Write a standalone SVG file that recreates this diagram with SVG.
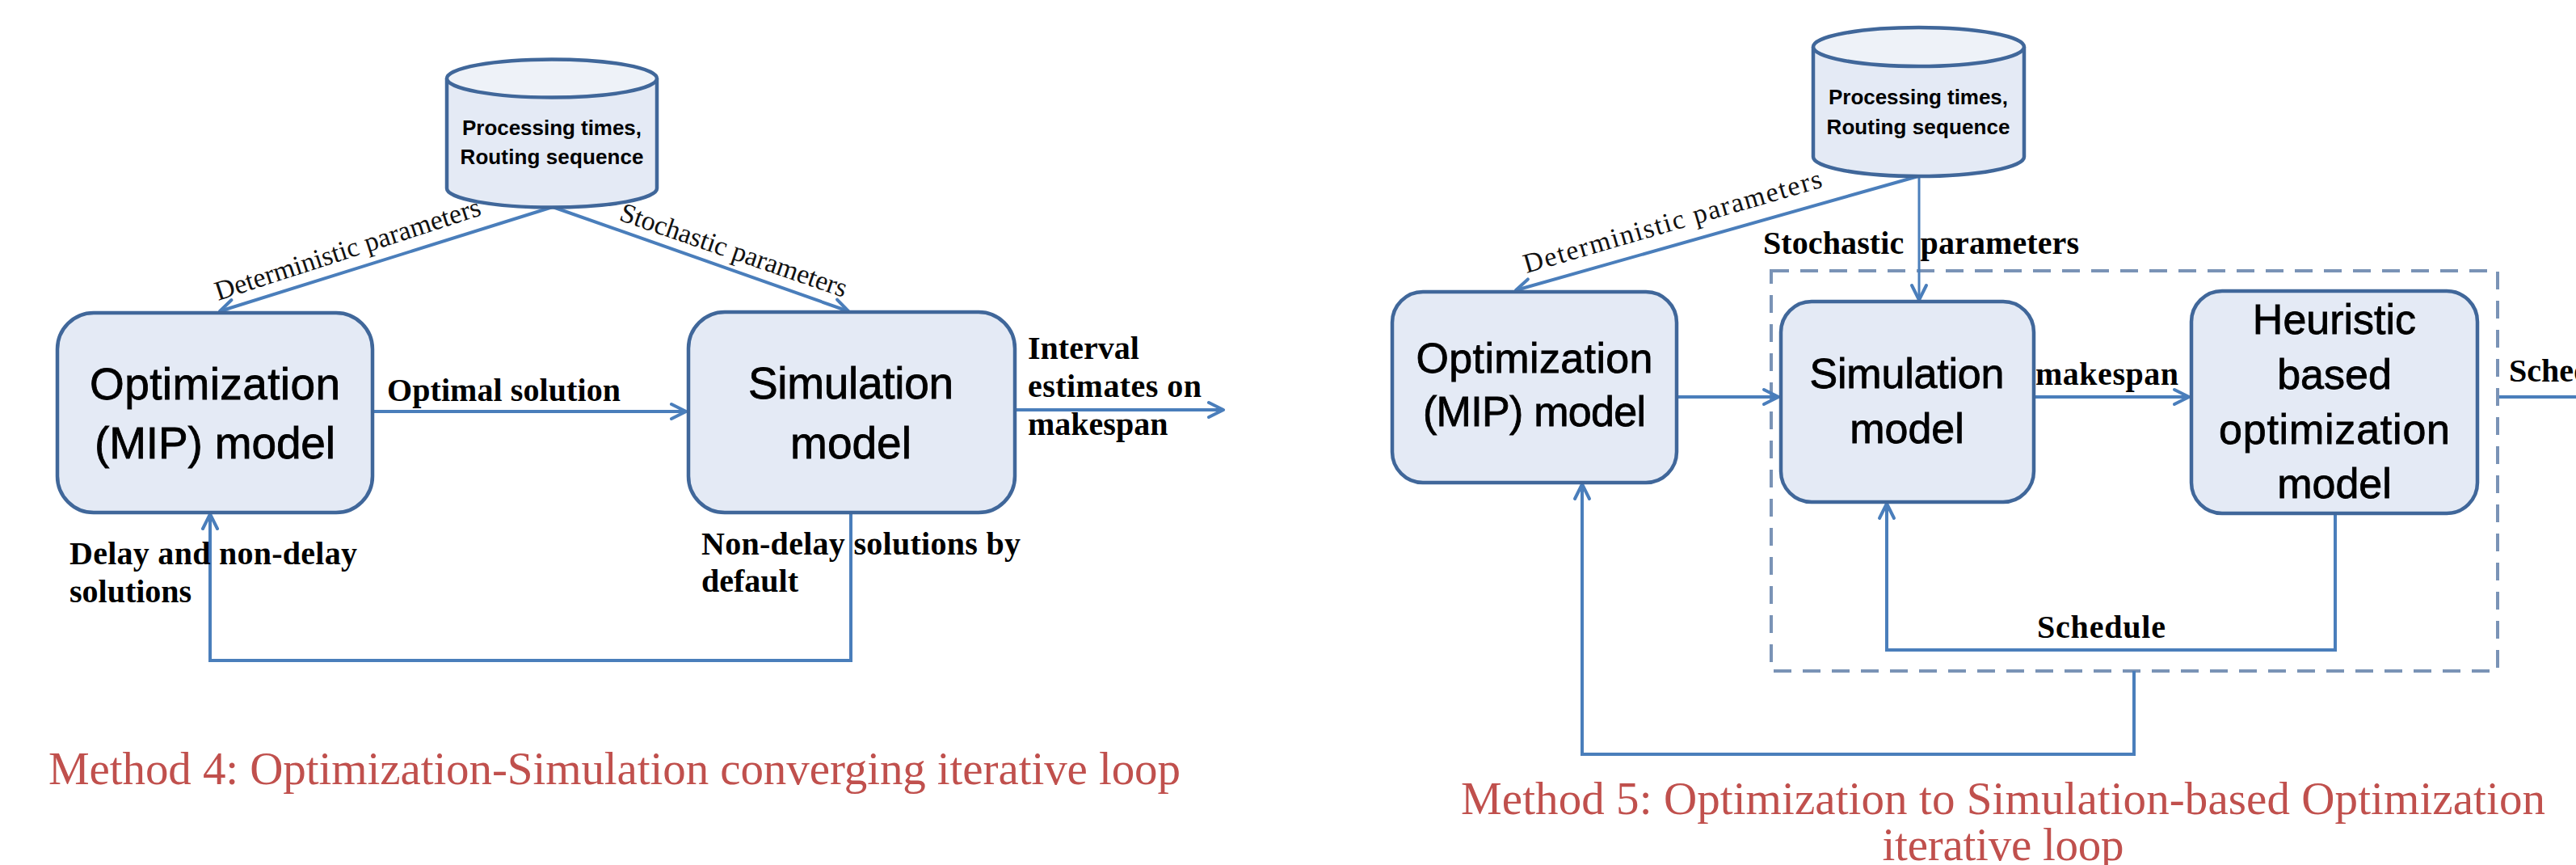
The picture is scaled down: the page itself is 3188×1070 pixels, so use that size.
<svg xmlns="http://www.w3.org/2000/svg" width="3188" height="1070" viewBox="0 0 3188 1070">
  <style>
    .box { fill: #E4EAF5; stroke: #40679A; stroke-width: 4.5; }
    .cyl-body { fill: #E4EAF5; stroke: #40679A; stroke-width: 4.5; }
    .cyl-top { fill: #EEF2F8; stroke: #40679A; stroke-width: 4.5; }
    .conn { fill: none; stroke: #4A7EBB; stroke-width: 4; }
    .thin { stroke-width: 3; }
    .group-box { fill: none; stroke: #7A93B6; stroke-width: 4; stroke-dasharray: 22 14; }
    .bt { font-family: "Liberation Sans", Arial, sans-serif; font-size: 55px; text-anchor: middle; fill: #000; stroke: #000; stroke-width: 0.8; }
    .bt2 { font-family: "Liberation Sans", Arial, sans-serif; font-size: 52px; text-anchor: middle; fill: #000; stroke: #000; stroke-width: 0.8; }
    .ct { font-family: "Liberation Sans", Arial, sans-serif; font-weight: bold; font-size: 26px; text-anchor: middle; fill: #000; }
    .lbl { font-family: "Liberation Serif", "Times New Roman", serif; font-weight: bold; font-size: 40px; fill: #000; white-space: pre; }
    .rot { font-family: "Liberation Serif", "Times New Roman", serif; font-size: 34px; fill: #111; }
    .cap { font-family: "Liberation Serif", "Times New Roman", serif; font-size: 57px; fill: #C0504D; }
  </style>
  <defs>
    <marker id="arrow" markerUnits="userSpaceOnUse" markerWidth="40" markerHeight="40" refX="0" refY="0" orient="auto" overflow="visible">
      <path d="M-18,-9 L0,0 L-18,9" fill="none" stroke="#4A7EBB" stroke-width="4" stroke-linecap="round" stroke-linejoin="round"/>
    </marker>
  </defs>

  <rect width="3188" height="1070" fill="#FFFFFF"/>

  <!-- ===== Method 4 ===== -->
  <g id="m4-connectors">
    <path class="conn" d="M684,256 L272,385" marker-end="url(#arrow)"/>
    <path class="conn" d="M684,256 L1050,385" marker-end="url(#arrow)"/>
    <path class="conn" d="M461,509 L849,509" marker-end="url(#arrow)"/>
    <path class="conn" d="M1256,507 L1514,507" marker-end="url(#arrow)"/>
    <path class="conn" d="M1053,634 L1053,817 L260,817 L260,636" marker-end="url(#arrow)"/>
  </g>

  <g id="m4-data">
    <path class="cyl-body" d="M553,97 L553,233 A130,23.5 0 0 0 813,233 L813,97"/>
    <ellipse class="cyl-top" cx="683" cy="97" rx="130" ry="23.5"/>
    <text class="ct" x="683" y="167" textLength="222">Processing times,</text>
    <text class="ct" x="683" y="203" textLength="227">Routing sequence</text>
  </g>

  <g id="m4-optimization">
    <rect class="box" x="71" y="387" width="390" height="247" rx="45"/>
    <text class="bt" x="266" y="494" textLength="310">Optimization</text>
    <text class="bt" x="266" y="567" textLength="298">(MIP) model</text>
  </g>

  <g id="m4-simulation">
    <rect class="box" x="852" y="386" width="404" height="248" rx="45"/>
    <text class="bt" x="1053" y="493" textLength="254">Simulation</text>
    <text class="bt" x="1053" y="567">model</text>
  </g>

  <g id="m4-labels">
    <text class="rot" x="270" y="372" transform="rotate(-18 270 372)" textLength="344">Deterministic parameters</text>
    <text class="rot" x="765" y="272" transform="rotate(19 765 272)" textLength="295">Stochastic parameters</text>
    <text class="lbl" x="479" y="496" textLength="289">Optimal solution</text>
    <text class="lbl" x="1272" y="444">Interval</text>
    <text class="lbl" x="1272" y="491" textLength="215">estimates on</text>
    <text class="lbl" x="1272" y="538">makespan</text>
    <text class="lbl" x="86" y="698" textLength="356">Delay and non-delay</text>
    <text class="lbl" x="86" y="745">solutions</text>
    <text class="lbl" x="868" y="686" textLength="395">Non-delay solutions by</text>
    <text class="lbl" x="868" y="732">default</text>
    <text class="cap" x="60" y="970" textLength="1401">Method 4: Optimization-Simulation converging iterative loop</text>
  </g>

  <!-- ===== Method 5 ===== -->
  <rect id="m5-sim-opt-group" class="group-box" x="2192" y="335" width="899" height="495"/>

  <g id="m5-connectors">
    <path class="conn" d="M2374,218 L1876,359" marker-end="url(#arrow)"/>
    <path class="conn thin" d="M2375,218 L2375,371" marker-end="url(#arrow)"/>
    <path class="conn" d="M2075,491 L2201,491" marker-end="url(#arrow)"/>
    <path class="conn" d="M2517,491 L2709,491" marker-end="url(#arrow)"/>
    <path class="conn" d="M2890,635 L2890,804 L2335,804 L2335,623" marker-end="url(#arrow)"/>
    <path class="conn" d="M2641,830 L2641,933 L1958,933 L1958,599" marker-end="url(#arrow)"/>
    <path class="conn" d="M3093,491 L3200,491"/>
  </g>

  <g id="m5-data">
    <path class="cyl-body" d="M2244,58 L2244,194 A130.5,24 0 0 0 2505,194 L2505,58"/>
    <ellipse class="cyl-top" cx="2374.5" cy="58" rx="130.5" ry="24"/>
    <text class="ct" x="2374" y="129" textLength="222">Processing times,</text>
    <text class="ct" x="2374" y="166" textLength="227">Routing sequence</text>
  </g>

  <g id="m5-optimization">
    <rect class="box" x="1723" y="361" width="352" height="236" rx="38"/>
    <text class="bt2" x="1899" y="461" textLength="293">Optimization</text>
    <text class="bt2" x="1899" y="527" textLength="276">(MIP) model</text>
  </g>

  <g id="m5-simulation">
    <rect class="box" x="2204" y="373" width="313" height="248" rx="38"/>
    <text class="bt2" x="2360" y="480" textLength="241">Simulation</text>
    <text class="bt2" x="2360" y="548">model</text>
  </g>

  <g id="m5-heuristic">
    <rect class="box" x="2712" y="360" width="354" height="275" rx="38"/>
    <text class="bt2" x="2889" y="413">Heuristic</text>
    <text class="bt2" x="2889" y="481">based</text>
    <text class="bt2" x="2889" y="549" textLength="286">optimization</text>
    <text class="bt2" x="2889" y="616">model</text>
  </g>

  <g id="m5-labels">
    <text class="rot" x="1889" y="338" transform="rotate(-16.2 1889 338)" textLength="383">Deterministic parameters</text>
    <text class="lbl" x="2182" y="314" textLength="391">Stochastic  parameters</text>
    <text class="lbl" x="2519" y="476" textLength="177">makespan</text>
    <text class="lbl" x="2521" y="789" textLength="159">Schedule</text>
    <text class="lbl" x="3105" y="472">Schedule</text>
    <text class="cap" x="2479" y="1007" text-anchor="middle" textLength="1342">Method 5: Optimization to Simulation-based Optimization</text>
    <text class="cap" x="2479" y="1064" text-anchor="middle" textLength="299">iterative loop</text>
  </g>
</svg>
